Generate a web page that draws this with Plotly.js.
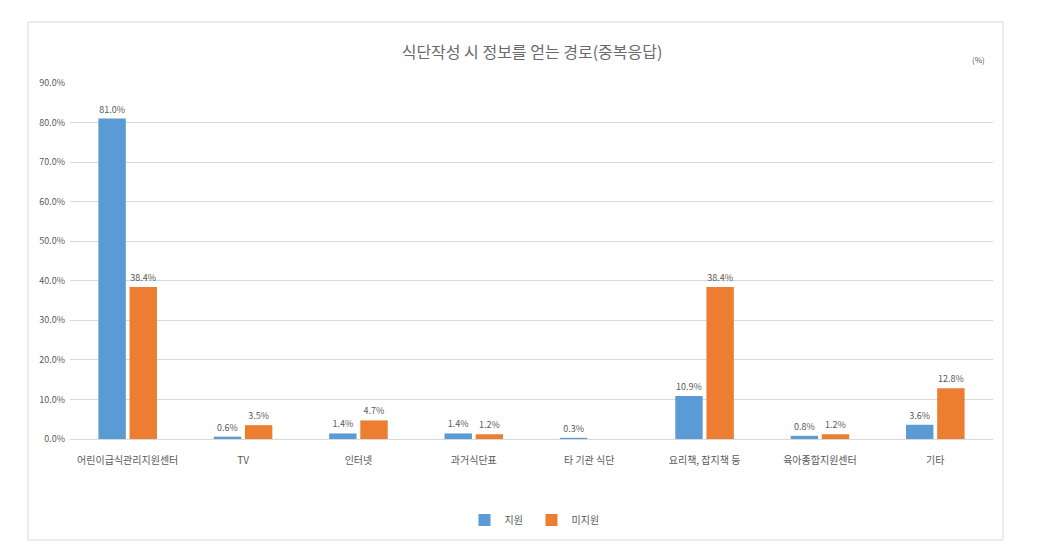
<!DOCTYPE html>
<html><head><meta charset="utf-8">
<script src="https://cdn.plot.ly/plotly-3.0.1.min.js"></script>
<style>html,body{margin:0;padding:0;background:#fff;}#chart{width:1064px;height:555px;}</style>
</head><body><div id="chart"></div>
<script>
const categories = ["어린이급식관리지원센터","TV","인터넷","과거식단표","타 기관 식단","요리책, 잡지책 등","육아종합지원센터","기타"];
const supported = [81.0, 0.6, 1.4, 1.4, 0.3, 10.9, 0.8, 3.6];
const unsupported = [38.4, 3.5, 4.7, 1.2, null, 38.4, 1.2, 12.8];
const seriesNames = ["지원", "미지원"];

const FONT = '"Noto Sans CJK KR", "Noto Sans", sans-serif';
const L = 70, R = 993, T = 83, B = 439, W = 1064, H = 555;
const px = x => (x - L) / (R - L);
const py = y => (B - y) / (B - T);

function lbl(v){ return v == null ? "" : v.toFixed(1) + "%"; }

const traces = [
  {type:"bar", name:seriesNames[0], x:categories, y:supported, marker:{color:"#5B9BD5"},
   text:supported.map(lbl), textposition:"outside", cliponaxis:false,
   textfont:{size:9, color:"#595959", family:FONT}},
  {type:"bar", name:seriesNames[1], x:categories, y:unsupported, marker:{color:"#ED7D31"},
   text:unsupported.map(lbl), textposition:"outside", cliponaxis:false,
   textfont:{size:9, color:"#595959", family:FONT}}
];

const layout = {
  width:W, height:H,
  margin:{l:L, r:W-R, t:T, b:H-B},
  paper_bgcolor:"#fff", plot_bgcolor:"#fff",
  font:{family:FONT, color:"#595959", size:9},
  barmode:"group", bargap:0.46, bargroupgap:0.12,
  title:{text:"식단작성 시 정보를 얻는 경로(중복응답)", font:{size:16, color:"#6a6a6a", family:FONT},
         x:0.5, xanchor:"center", y:1-52/H, yanchor:"middle"},
  xaxis:{type:"category", showgrid:false, zeroline:false, showline:false, ticks:"",
         ticklabelstandoff:14, tickfont:{size:10, color:"#595959"}, automargin:false},
  yaxis:{range:[0,90], dtick:10, tickformat:".1f", ticksuffix:"%", showgrid:true, gridcolor:"#d9d9d9",
         zeroline:true, zerolinecolor:"#d9d9d9", showline:false, ticks:"", ticklabelstandoff:4,
         tickfont:{size:9, color:"#595959"}, automargin:false},
  showlegend:true,
  legend:{orientation:"h", x:0.5, xanchor:"center", y:py(520), yanchor:"middle",
          font:{size:10, color:"#595959"}, itemwidth:30, entrywidth:22, entrywidthmode:"pixels",
          traceorder:"normal"},
  annotations:[{text:"(%)", xref:"paper", yref:"paper", x:px(978), y:py(60), xanchor:"center", yanchor:"middle",
                showarrow:false, font:{size:8, color:"#595959"}}],
  shapes:[{type:"rect", xref:"paper", yref:"paper", x0:px(28), x1:px(1003), y0:py(22), y1:py(540),
           line:{color:"#d9d9d9", width:1}, fillcolor:"rgba(0,0,0,0)", layer:"below"}]
};
Plotly.newPlot("chart", traces, layout, {displayModeBar:false, staticPlot:true});
</script></body></html>
